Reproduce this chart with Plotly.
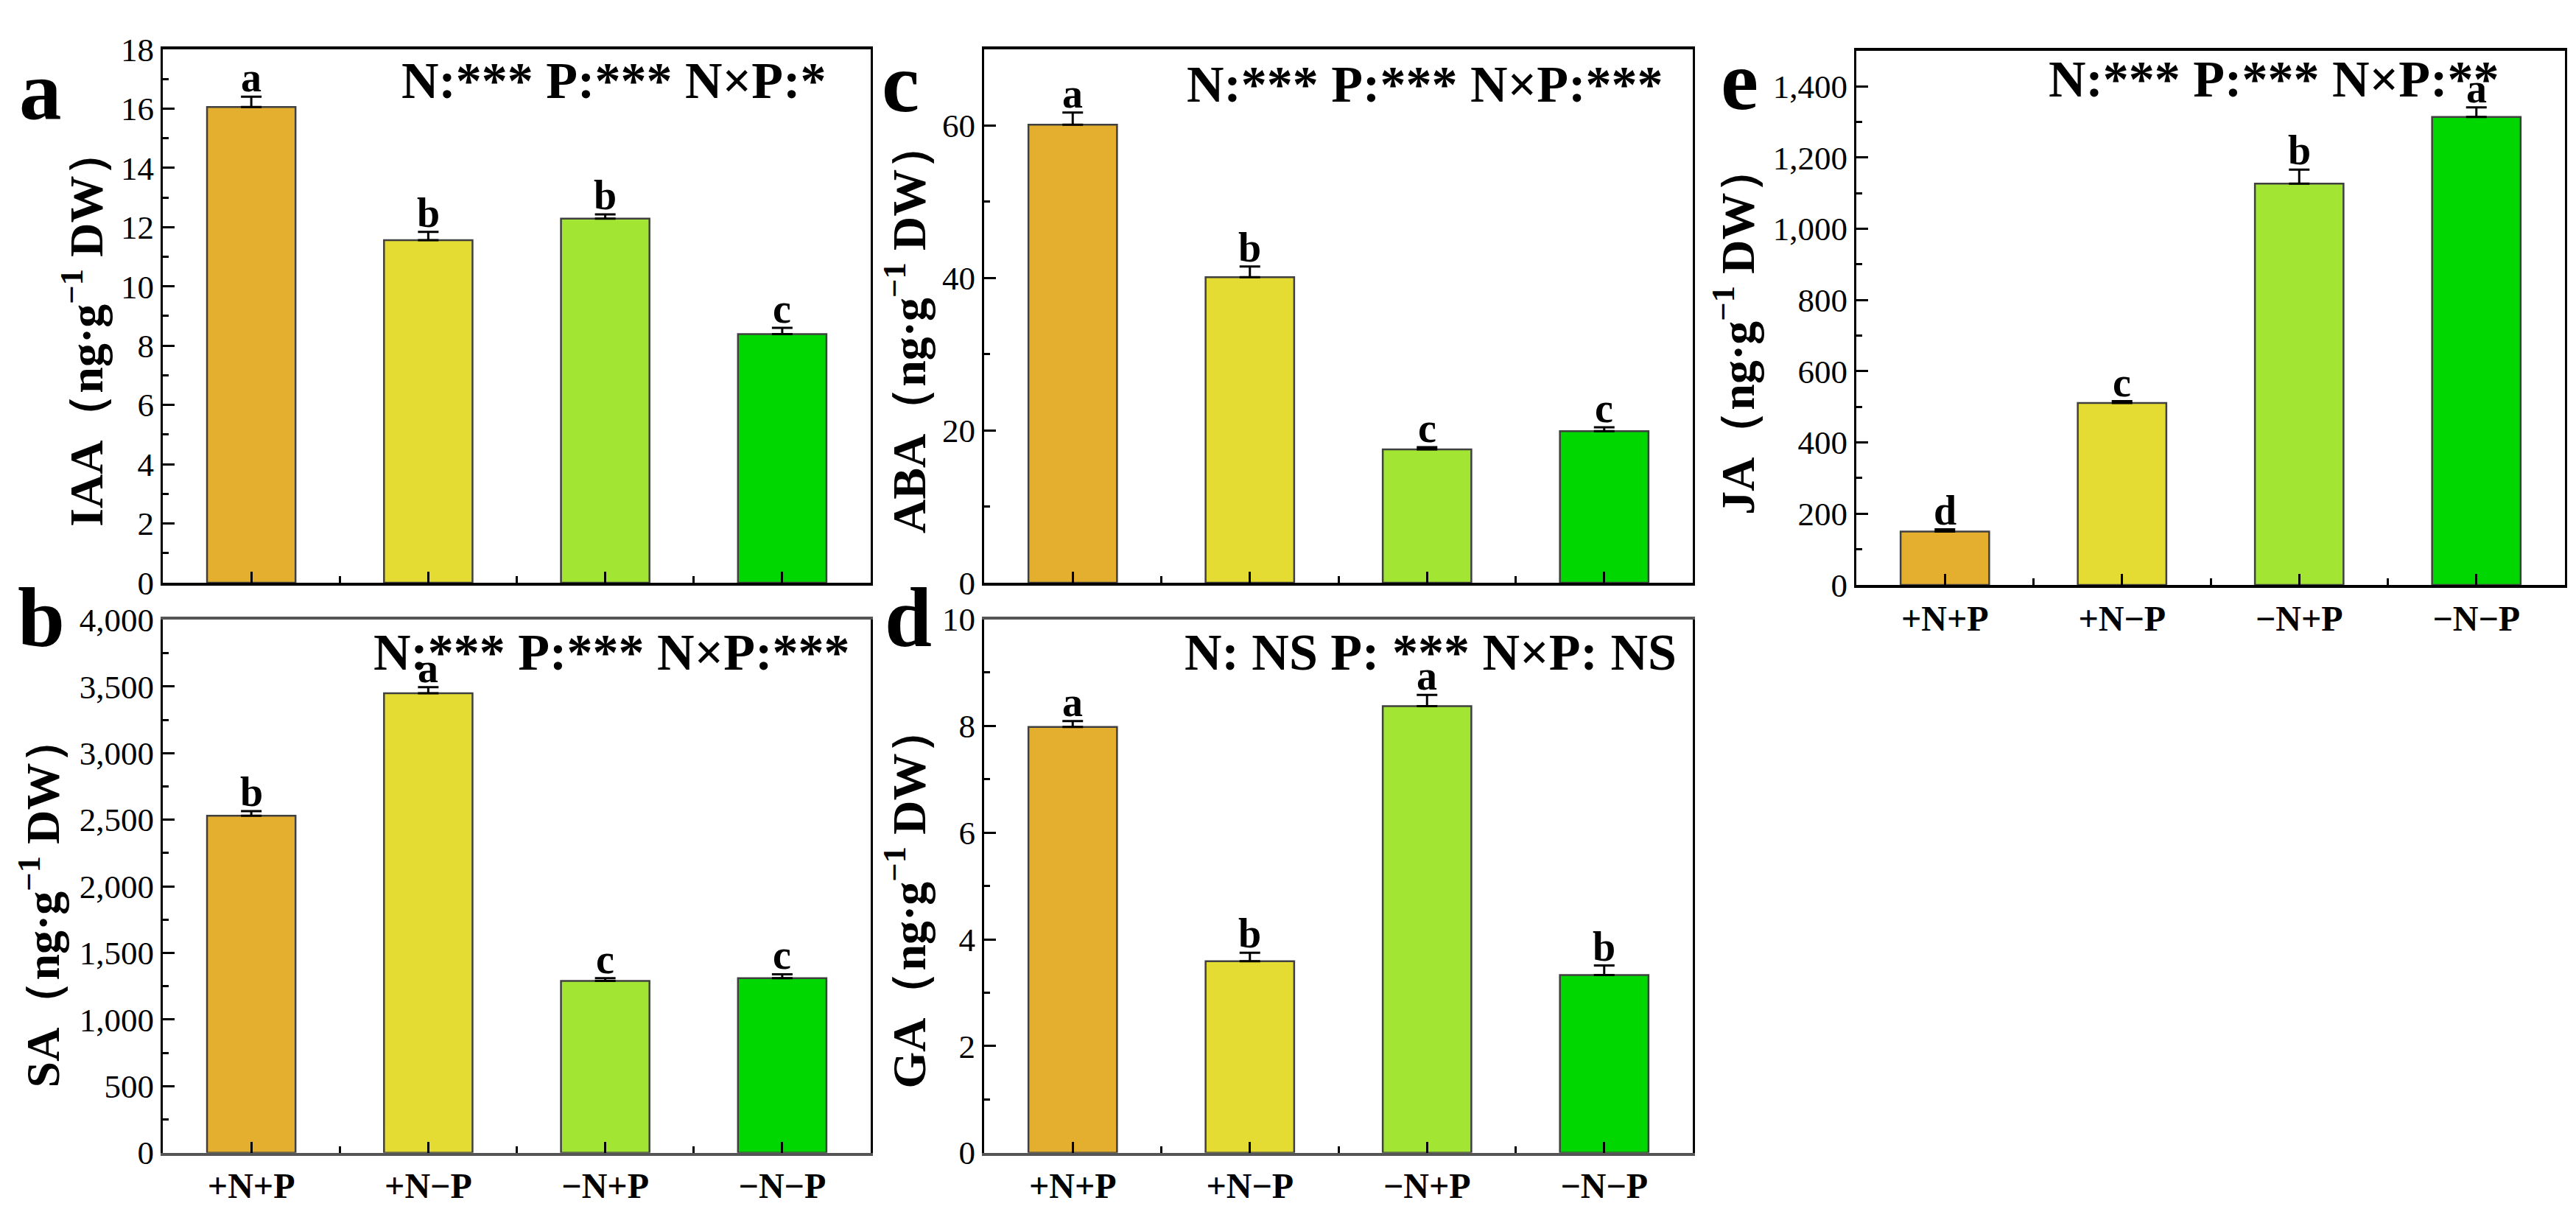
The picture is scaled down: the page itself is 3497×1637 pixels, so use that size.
import plotly.graph_objects as go

W, H = 3497, 1637

treatments = ["+N+P", "+N−P", "−N+P", "−N−P"]
bar_colors = ["#E4AF2F", "#E4DC33", "#A2E633", "#00D600"]

iaa = [16.05, 11.56, 12.29, 8.39]
iaa_err = [0.35, 0.28, 0.14, 0.21]
iaa_letters = ["a", "b", "b", "c"]

sa = [2530, 3450, 1290, 1310]
sa_err = [35, 45, 20, 30]
sa_letters = ["b", "a", "c", "c"]

aba = [60.1, 40.1, 17.5, 19.9]
aba_err = [1.6, 1.4, 0.3, 0.5]
aba_letters = ["a", "b", "c", "c"]

ga = [7.98, 3.59, 8.37, 3.33]
ga_err = [0.11, 0.16, 0.21, 0.18]
ga_letters = ["a", "b", "a", "b"]

ja = [150, 511, 1127, 1314]
ja_err = [6, 5, 39, 27]
ja_letters = ["d", "c", "b", "a"]

serif = "Liberation Serif, Times New Roman, serif"


def px(x):
    return x / W


def py(y):
    return 1 - y / H


# panel boxes in pixels: left, right, top, bottom
panels = [
    dict(name="a", vals=iaa, err=iaa_err, let=iaa_letters, ytitle="IAA",
         box=(213, 1174, 36, 783), rng=18, dt=2, mdt=1, fmt="",
         stat="N:*** P:*** N×P:*", stat_xy=(825, 80), lab_xy=(47, 93),
         tit_xy=(105, 426), xlabels=False),
    dict(name="b", vals=sa, err=sa_err, let=sa_letters, ytitle="SA",
         box=(213, 1174, 835, 1581), rng=4000, dt=500, mdt=250, fmt=",",
         stat="N:*** P:*** N×P:***", stat_xy=(822, 880), lab_xy=(48, 832),
         tit_xy=(46, 1230), xlabels=True),
    dict(name="c", vals=aba, err=aba_err, let=aba_letters, ytitle="ABA",
         box=(1328, 2290, 36, 783), rng=70, dt=20, mdt=10, fmt="",
         stat="N:*** P:*** N×P:***", stat_xy=(1926, 85), lab_xy=(1214, 83),
         tit_xy=(1222, 426), xlabels=False),
    dict(name="d", vals=ga, err=ga_err, let=ga_letters, ytitle="GA",
         box=(1328, 2290, 834, 1581), rng=10, dt=2, mdt=1, fmt="",
         stat="N: NS P: *** N×P: NS", stat_xy=(1934, 880), lab_xy=(1225, 832),
         tit_xy=(1222, 1224), xlabels=True),
    dict(name="e", vals=ja, err=ja_err, let=ja_letters, ytitle="JA",
         box=(2512, 3474, 38, 786), rng=1500, dt=200, mdt=100, fmt=",",
         stat="N:*** P:*** N×P:**", stat_xy=(3078, 78), lab_xy=(2353, 80),
         tit_xy=(2347, 430), xlabels=True),
]

fig = go.Figure()
annotations = []

for i, p in enumerate(panels):
    n = "" if i == 0 else str(i + 1)
    xa, ya = "x" + n, "y" + n
    fig.add_trace(go.Bar(
        x=list(range(len(treatments))), y=p["vals"],
        width=0.5,
        marker=dict(color=bar_colors, line=dict(color="#404040", width=2.5)),
        error_y=dict(type="data", array=p["err"], arrayminus=[0] * 4,
                     symmetric=False, color="black", thickness=3, width=14),
        xaxis=xa, yaxis=ya, showlegend=False,
    ))
    l, r, t, b = p["box"]
    line_col = "#555555" if p["name"] in ("b", "d") else "black"
    fig.layout["xaxis" + n] = dict(
        domain=[px(l), px(r)], anchor=ya, range=[-0.5, 3.5],
        tickvals=[0, 1, 2, 3], ticktext=treatments, showticklabels=p["xlabels"],
        ticks="inside", ticklen=15, tickwidth=3, tickcolor="black",
        minor=dict(tickvals=[0.5, 1.5, 2.5], ticks="inside", ticklen=9,
                   tickwidth=3, tickcolor="black"),
        showline=True, linecolor=line_col, linewidth=4, mirror=True,
        showgrid=False, zeroline=False, fixedrange=True,
        tickfont=dict(family=serif, size=48, color="black", weight="bold"),
    )
    fig.layout["yaxis" + n] = dict(
        domain=[py(b), py(t)], anchor=xa, range=[0, p["rng"]],
        dtick=p["dt"], tick0=0, tickformat=p["fmt"],
        ticks="inside", ticklen=16, tickwidth=3, tickcolor="black",
        minor=dict(dtick=p["mdt"], ticks="inside", ticklen=8, tickwidth=3,
                   tickcolor="black"),
        showline=True, linecolor="black", linewidth=3, mirror=True,
        showgrid=False, zeroline=False, fixedrange=True,
        tickfont=dict(family=serif, size=45, color="black"),
    )
    # significance letters
    for k in range(4):
        annotations.append(dict(
            x=k, y=p["vals"][k] + p["err"][k], xref=xa, yref=ya,
            text=p["let"][k], showarrow=False, yanchor="bottom", yshift=-7,
            font=dict(family=serif, size=56, color="black", weight="bold"),
        ))
    # statistics text
    annotations.append(dict(
        x=px(p["stat_xy"][0]), y=py(p["stat_xy"][1]), xref="paper", yref="paper",
        text=p["stat"], showarrow=False, xanchor="center", yanchor="middle",
        font=dict(family=serif, size=70, color="black", weight="bold"),
    ))
    # panel label
    annotations.append(dict(
        x=px(p["lab_xy"][0]), y=py(p["lab_xy"][1]), xref="paper", yref="paper",
        text=p["name"], showarrow=False, xanchor="center", yanchor="middle",
        font=dict(family=serif, size=115, color="black", weight="bold"),
    ))
    # y axis title
    annotations.append(dict(
        x=px(p["tit_xy"][0]), y=py(p["tit_xy"][1]), xref="paper", yref="paper",
        text=p["ytitle"] + "（ng·g<sup>−1</sup> DW）", showarrow=False,
        textangle=-90, xanchor="center", yanchor="middle",
        font=dict(family=serif, size=64, color="black", weight="bold"),
    ))

fig.update_layout(
    width=W, height=H,
    margin=dict(l=0, r=0, t=0, b=0),
    paper_bgcolor="white", plot_bgcolor="white",
    annotations=annotations,
    bargap=0.5,
)

fig.write_html("out.html")
